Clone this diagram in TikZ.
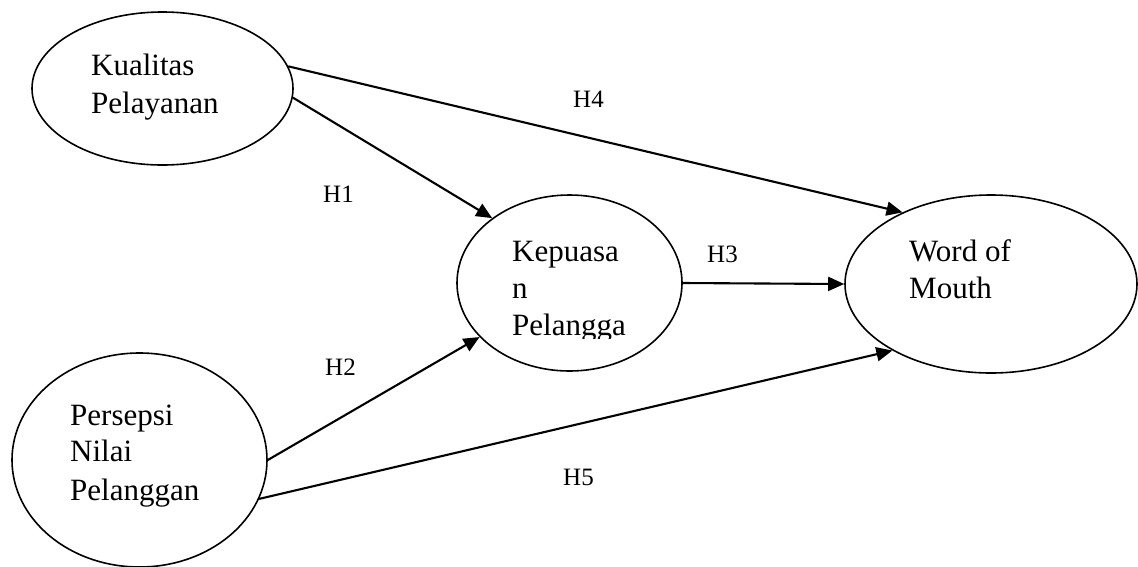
\documentclass[tikz,border=0pt]{standalone}
\usepackage{fontspec}
\setmainfont{Liberation Serif}
\usetikzlibrary{arrows.meta,shapes.geometric}
\begin{document}
\begin{tikzpicture}[x=1pt,y=1pt,
  oval/.style={draw,ellipse,line width=1.6pt,inner sep=0pt},
  txt/.style={anchor=base west,inner sep=0pt,font=\fontsize{31}{37}\selectfont},
  hyp/.style={anchor=base west,inner sep=0pt,font=\fontsize{25}{30}\selectfont},
  arr/.style={line width=2.1pt,-{Triangle[length=16pt,width=14pt]}}]
\useasboundingbox (0,0) rectangle (1138,-566);
% ellipses
\node[oval,minimum width=261pt,minimum height=153pt] (kp) at (162.5,-88.5) {};
\node[oval,minimum width=255pt,minimum height=214pt] (pn) at (139.5,-460) {};
\node[oval,minimum width=225pt,minimum height=176pt] (kep) at (569.5,-283) {};
\node[oval,minimum width=292pt,minimum height=178pt] (wom) at (991,-284) {};
% texts
\node[txt] (t1) at (91,-75) {Kualitas};
\node[txt] (t2) at (91,-113) {Pelayanan};
\node[txt] (t3) at (70,-425) {Persepsi};
\node[txt] (t4) at (70,-461.7) {Nilai};
\node[txt] (t5) at (70,-500) {Pelanggan};
\node[txt] (t6) at (512,-261.7) {Kepuasa};
\node[txt] (t7) at (512,-298.3) {n};
\begin{scope}
\clip (500,-300) rectangle (680,-338);
\node[txt] (t8) at (512,-335) {Pelangga};
\end{scope}
\node[txt] (t9) at (909,-261) {Word of};
\node[txt] (t10) at (909,-298.3) {Mouth};
% arrows
\draw[arr] (kp.-4.2) -- (kep.140.3);
\draw[arr] (kp.10.9) -- (wom.141.9);
\draw[arr] (kep.0) -- (wom.180);
\draw[arr] (pn.-0.9) -- (kep.211.9);
\draw[arr] (pn.-18.2) -- (wom.214.5);
% hypothesis labels
\node[hyp] (h4) at (573,-107) {H4};
\node[hyp] (h1) at (323,-202) {H1};
\node[hyp] (h3) at (707,-262) {H3};
\node[hyp] (h2) at (325,-375) {H2};
\node[hyp] (h5) at (563,-485) {H5};
\end{tikzpicture}
\end{document}
